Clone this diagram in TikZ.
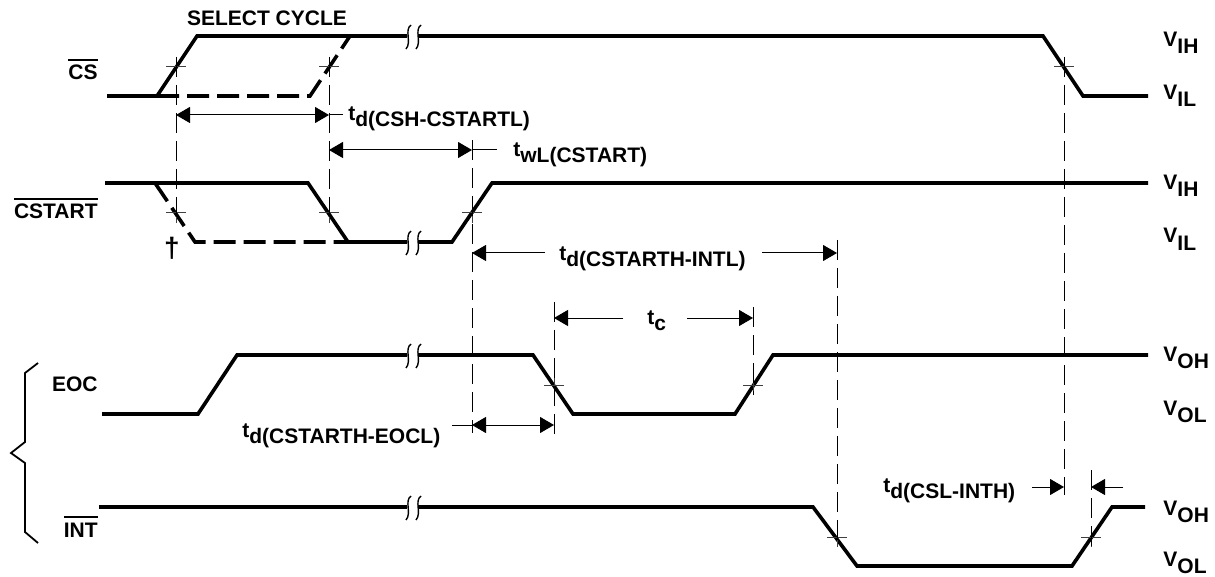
\documentclass[tikz,border=0pt]{standalone}
\usepackage{fontspec}
\setmainfont{Liberation Sans}
\usetikzlibrary{arrows.meta}
\newcommand\barred[1]{\vbox{\hrule height 1.2pt\kern 2.2pt\hbox{#1}}}
\newcommand\tlab[1]{\raisebox{3pt}{t}#1}
\newcommand\vlab[1]{\raisebox{3.5pt}{V}#1}
\tikzset{
  sig/.style={line width=1.8pt, line join=miter},
  sigdash/.style={sig, dash pattern=on 11pt off 4pt},
  guide/.style={line width=0.5pt, dash pattern=on 10pt off 4pt},
  dimline/.style={line width=0.5pt},
  tip/.style={-{Triangle[length=7pt,width=8pt]}},
  bothtip/.style={{Triangle[length=7pt,width=8pt]}-{Triangle[length=7pt,width=8pt]}},
  txt/.style={inner sep=0pt, font=\bfseries\fontsize{10.5}{12}\selectfont},
  brk/.pic={\draw[line width=0.7pt] (3,-12) .. controls (-4,-7) and (4,5) .. (-2,12);},
  crossmark/.pic={\draw[line width=0.5pt, black!75] (-10,0) -- (10,0) (0,-10) -- (0,10);}
}
\begin{document}
\begin{tikzpicture}[x=0.5pt,y=-0.5pt]
\useasboundingbox (0,0) rectangle (1215,577);

% ---------- signal names ----------
\node[txt, anchor=base east] (lcs) at (98,80) {\barred{CS}};
\node[txt, anchor=base east] (lcstart) at (98,219) {\barred{CSTART}};
\node[txt, anchor=base east] (leoc) at (98,391) {EOC};
\node[txt, anchor=base east] (lint) at (98,537) {\barred{INT}};
\node[txt, anchor=base] (lsel) at (267,26) {SELECT CYCLE};

% ---------- level labels ----------
\node[txt, anchor=base west] (v1) at (1163,54) {\vlab{IH}};
\node[txt, anchor=base west] (v2) at (1163,107) {\vlab{IL}};
\node[txt, anchor=base west] (v3) at (1163,197) {\vlab{IH}};
\node[txt, anchor=base west] (v4) at (1163,250) {\vlab{IL}};
\node[txt, anchor=base west] (v5) at (1163,368) {\vlab{OH}};
\node[txt, anchor=base west] (v6) at (1163,422) {\vlab{OL}};
\node[txt, anchor=base west] (v7) at (1163,522) {\vlab{OH}};
\node[txt, anchor=base west] (v8) at (1163,573) {\vlab{OL}};

% ---------- brace ----------
\draw[line width=0.9pt] (38,363) -- (25,373) -- (25,442) -- (11,453) -- (25,463) -- (25,532) -- (38,543);

% ---------- CS ----------
\draw[sig] (107,96) -- (157,96) -- (197,36) -- (407,36);
\draw[sig] (418,36) -- (1043,36) -- (1083,96) -- (1148,96);
\draw[sigdash] (157,96) -- (310,96) -- (350,36);
\pic at (408,37) {brk}; \pic at (418,37) {brk};

% ---------- CSTART ----------
\draw[sig] (105,183) -- (308,183) -- (348,242) -- (407,242);
\draw[sig] (418,242) -- (452,242) -- (492,183) -- (1148,183);
\draw[sigdash] (155,183) -- (195,242) -- (348,242);
\pic at (408,243) {brk}; \pic at (418,243) {brk};
\node[txt, anchor=center, font=\bfseries\fontsize{14}{16}\selectfont] (dag) at (172,248) {\textdagger};

% ---------- EOC ----------
\draw[sig] (102,414) -- (198,414) -- (237,355) -- (407,355);
\draw[sig] (418,355) -- (533,355) -- (573,414) -- (735,414) -- (773,355) -- (1148,355);
\pic at (408,356) {brk}; \pic at (418,356) {brk};

% ---------- INT ----------
\draw[sig] (99,507) -- (407,507);
\draw[sig] (418,507) -- (813,507) -- (857,566) -- (1072,566) -- (1112,507) -- (1145,507);
\pic at (408,508) {brk}; \pic at (418,508) {brk};

% ---------- crossing marks ----------
\foreach \p in {(176,67),(329,67),(1064,67),(176,213),(329,213),(472,213),(554,385),(753,385),(837,537),(1091,537)}
  \pic at \p {crossmark};

% ---------- guide lines ----------
\coordinate (g1a) at (176,57);  \coordinate (g1b) at (176,223);
\coordinate (g2a) at (329,57);  \coordinate (g2b) at (329,223);
\coordinate (g3a) at (472,140); \coordinate (g3b) at (472,433);
\coordinate (g4a) at (554,302); \coordinate (g4b) at (554,438);
\coordinate (g5a) at (753,307); \coordinate (g5b) at (753,395);
\coordinate (g6a) at (837,240); \coordinate (g6b) at (837,547);
\coordinate (g7a) at (1064,57); \coordinate (g7b) at (1064,495);
\coordinate (g8a) at (1091,470);\coordinate (g8b) at (1091,547);
\foreach \i in {1,...,8} \draw[guide] (g\i a) -- (g\i b);

% ---------- timing dimensions ----------
% td(CSH-CSTARTL)
\coordinate (a1l) at (176,115); \coordinate (a1r) at (329,115); \coordinate (a1e) at (343,115);
\draw[dimline, bothtip] (a1l) -- (a1r);
\draw[dimline] (a1r) -- (a1e);
\node[txt, anchor=base west] (t1) at (348,127) {\tlab{d(CSH-CSTARTL)}};

% twL(CSTART)
\coordinate (a2l) at (329,150); \coordinate (a2r) at (472,150); \coordinate (a2e) at (497,150);
\draw[dimline, bothtip] (a2l) -- (a2r);
\draw[dimline] (a2r) -- (a2e);
\node[txt, anchor=base west] (t2) at (513,163) {\tlab{wL(CSTART)}};

% td(CSTARTH-INTL)
\coordinate (a3l) at (472,253); \coordinate (a3m) at (545,253);
\coordinate (a3n) at (762,253); \coordinate (a3r) at (837,253);
\draw[dimline, tip] (a3m) -- (a3l);
\draw[dimline, tip] (a3n) -- (a3r);
\node[txt, anchor=base west] (t3) at (559,267) {\tlab{d(CSTARTH-INTL)}};

% tc
\coordinate (a4l) at (554,318); \coordinate (a4m) at (623,318);
\coordinate (a4n) at (687,318); \coordinate (a4r) at (753,318);
\draw[dimline, tip] (a4m) -- (a4l);
\draw[dimline, tip] (a4n) -- (a4r);
\node[txt, anchor=base west] (t4) at (647,330) {\tlab{c}};

% td(CSTARTH-EOCL)
\coordinate (a5e) at (452,425); \coordinate (a5l) at (472,425); \coordinate (a5r) at (554,425);
\draw[dimline] (a5e) -- (a5l);
\draw[dimline, bothtip] (a5l) -- (a5r);
\node[txt, anchor=base west] (t5) at (242,443) {\tlab{d(CSTARTH-EOCL)}};

% td(CSL-INTH)
\coordinate (a6a) at (1032,487); \coordinate (a6b) at (1064,487);
\coordinate (a6c) at (1123,487); \coordinate (a6d) at (1091,487);
\draw[dimline, tip] (a6a) -- (a6b);
\draw[dimline, tip] (a6c) -- (a6d);
\node[txt, anchor=base west] (t6) at (883,498) {\tlab{d(CSL-INTH)}};
\end{tikzpicture}
\end{document}
